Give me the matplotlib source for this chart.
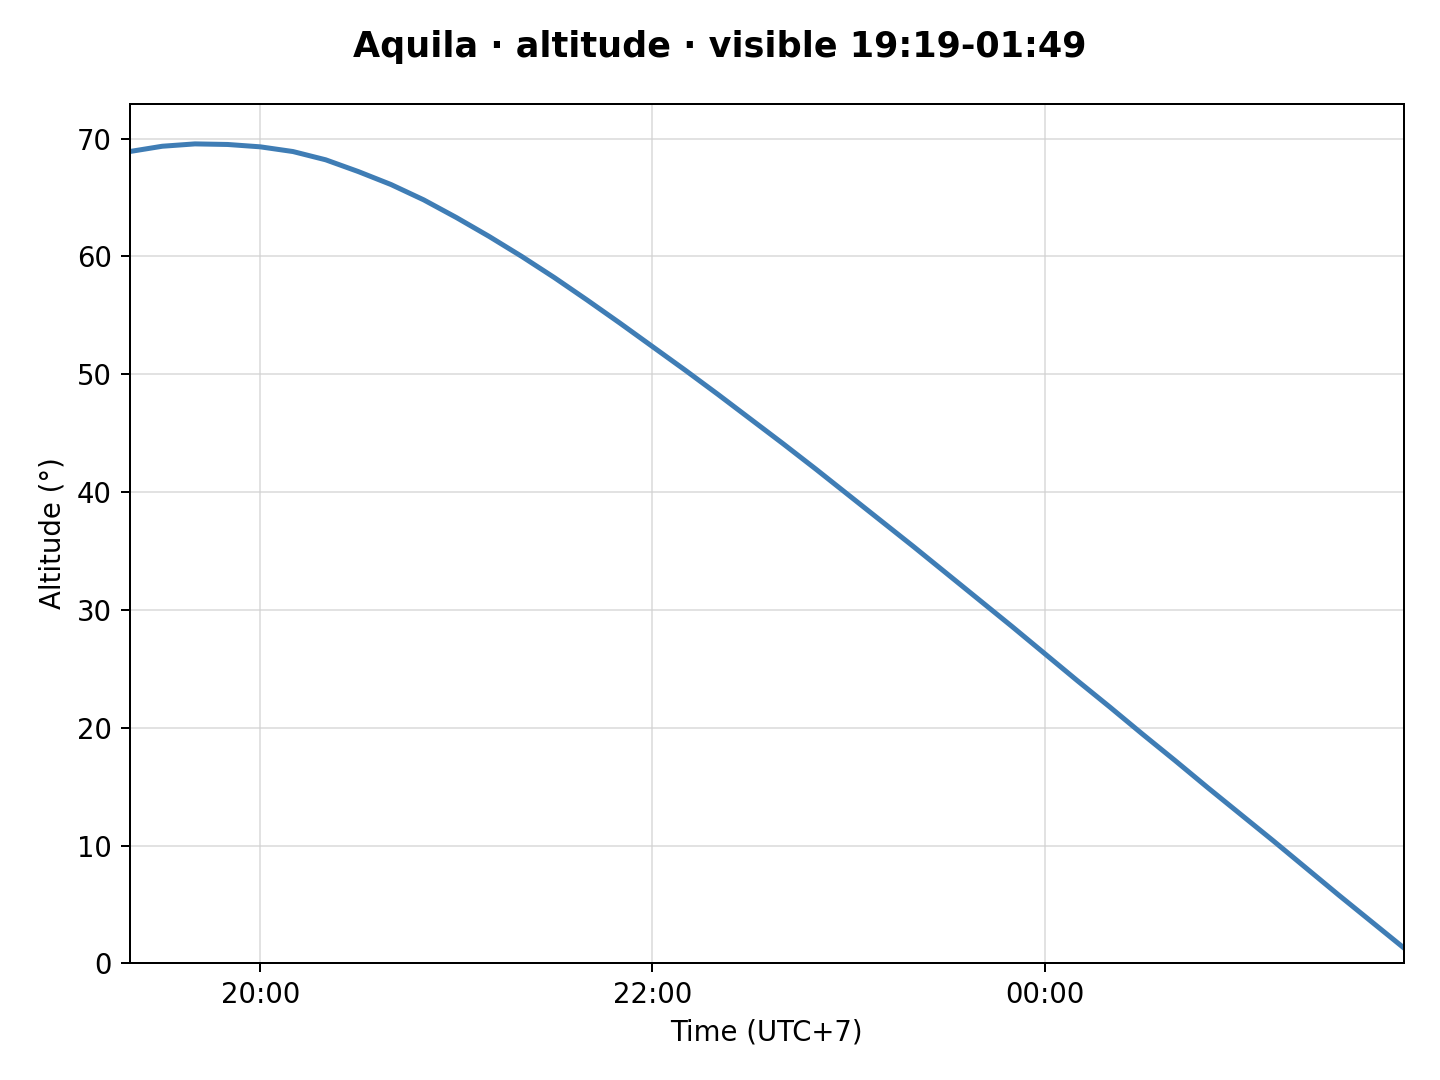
import matplotlib
matplotlib.use("Agg")
import matplotlib.pyplot as plt
import matplotlib.dates as mdates
import pandas as pd

times = [
    "19:20", "19:30", "19:40", "19:50", "20:00", "20:10", "20:20", "20:30",
    "20:40", "20:50", "21:00", "21:10", "21:20", "21:30", "21:40", "21:50",
    "22:00", "22:10", "22:20", "22:30", "22:40", "22:50", "23:00", "23:10",
    "23:20", "23:30", "23:40", "23:50", "00:00", "00:10", "00:20", "00:30",
    "00:40", "00:50", "01:00", "01:10", "01:20", "01:30", "01:40", "01:50",
]
altitude = [
    68.9, 69.35, 69.55, 69.5, 69.3, 68.9, 68.2, 67.2,
    66.1, 64.8, 63.3, 61.7, 60.0, 58.2, 56.3, 54.35,
    52.35, 50.35, 48.3, 46.2, 44.1, 41.95, 39.75, 37.55,
    35.35, 33.1, 30.85, 28.6, 26.3, 24.0, 21.75, 19.45,
    17.2, 14.9, 12.65, 10.4, 8.1, 5.8, 3.55, 1.3,
]

# times after midnight belong to the next day
ts = pd.to_datetime(["2024-08-01 " + t for t in times])
ts = [t + pd.Timedelta(days=1) if t.hour < 12 else t for t in ts]

fig, ax = plt.subplots(figsize=(8, 6), dpi=180)
fig.subplots_adjust(left=0.090, right=0.975, top=0.904, bottom=0.108)

ax.plot(ts, altitude, color="#3f7db5", linewidth=2)
ax.set_xlim(ts[0], ts[-1])
ax.set_ylim(bottom=0)
ax.grid(True, color="#d0d0d0", alpha=0.6, linewidth=0.8)

ax.xaxis.set_major_locator(mdates.HourLocator(byhour=[0, 20, 22]))
ax.xaxis.set_major_formatter(mdates.DateFormatter("%H:%M"))
ax.tick_params(labelsize=11)

ax.set_xlabel("Time (UTC+7)", fontsize=11)
ax.set_ylabel("Altitude (°)", fontsize=11)
fig.suptitle("Aquila · altitude · visible 19:19-01:49", fontsize=14, fontweight="bold", y=0.972)

fig.savefig("out.png", dpi=180)
